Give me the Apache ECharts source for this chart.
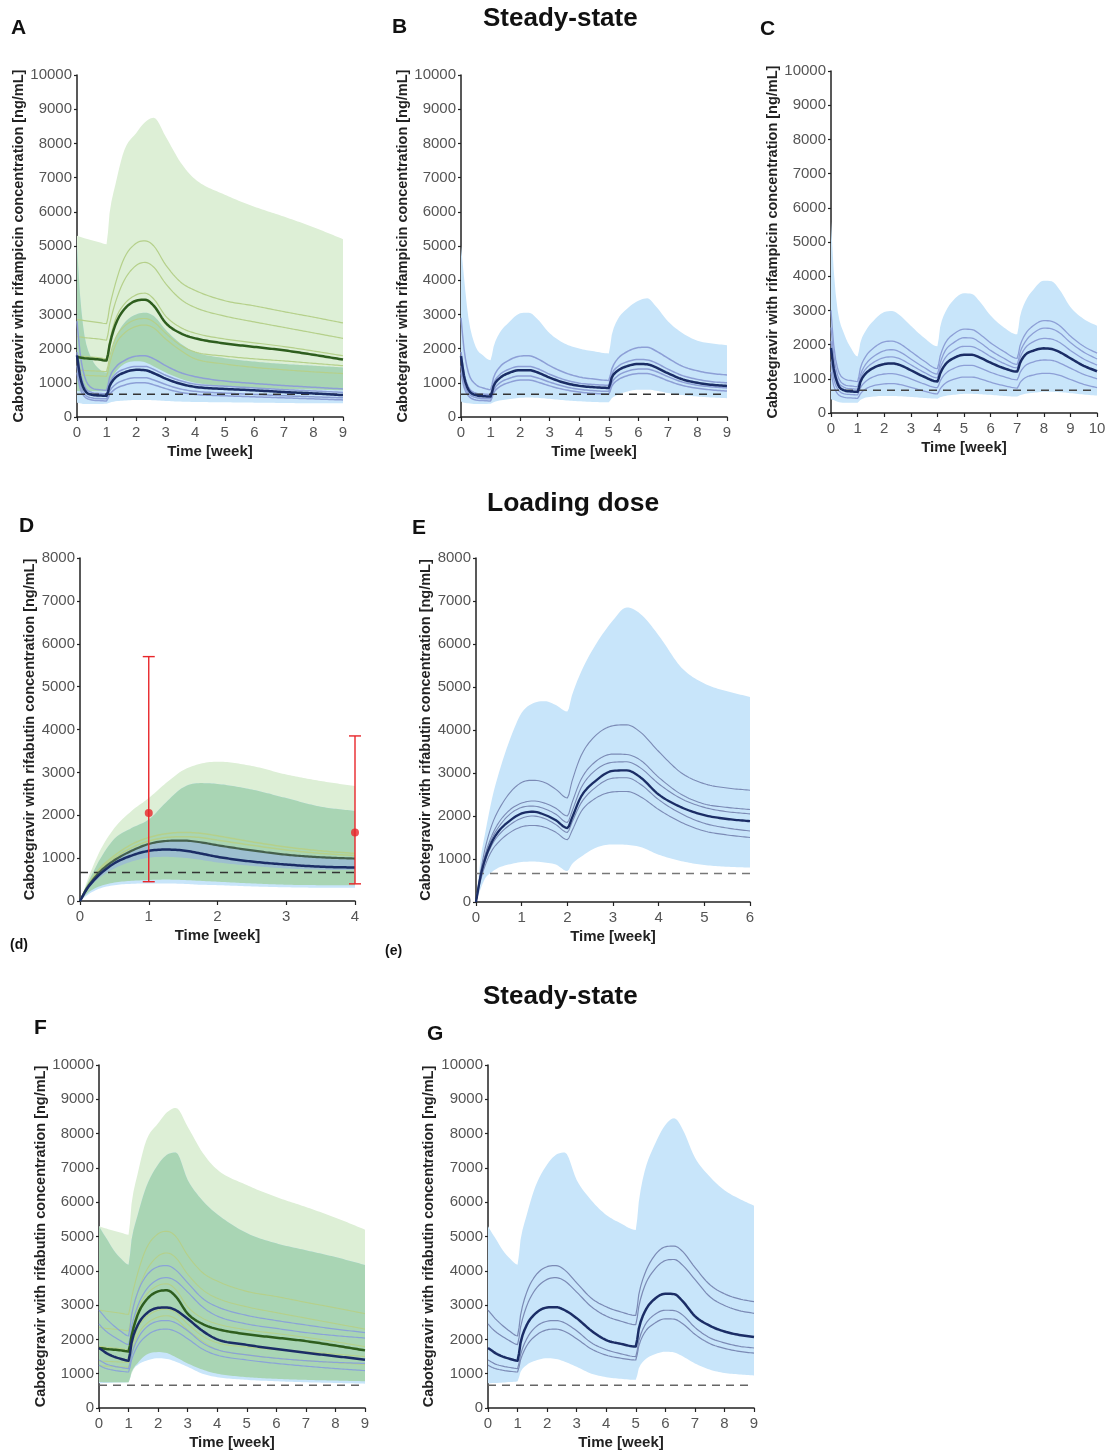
<!doctype html>
<html>
<head>
<meta charset="UTF-8">
<title>Cabotegravir with rifampicin / rifabutin</title>
<script src="https://cdn.jsdelivr.net/npm/echarts@6/dist/echarts.min.js"></script>
<style>
html, body { margin: 0; padding: 0; background: #fff; }
#chart { width: 1107px; height: 1451px; }
</style>
</head>
<body>
<div id="chart"></div>
<script>
// ---- time grids (weeks) ----
var tA = [0, 0.1, 0.25, 0.5, 0.75, 1, 1.1, 1.3, 1.6, 2, 2.3, 2.6, 3, 3.5, 4, 5, 6, 7, 8, 9];
var tB = [0, 0.1, 0.25, 0.5, 0.75, 1, 1.1, 1.3, 1.6, 2, 2.3, 2.6, 3, 3.5, 4, 4.5, 5, 5.1, 5.3, 5.6, 6, 6.3, 6.6, 7, 7.5, 8, 8.5, 9];
var tC = [0, 0.1, 0.25, 0.5, 0.75, 1, 1.1, 1.3, 1.6, 2, 2.3, 2.6, 3, 3.5, 4, 4.1, 4.3, 4.6, 5, 5.3, 5.6, 6, 6.5, 7, 7.1, 7.3, 7.6, 8, 8.3, 8.6, 9, 9.5, 10];
var tD = [0, 0.1, 0.2, 0.3, 0.5, 0.75, 1, 1.25, 1.5, 1.75, 2, 2.5, 3, 3.5, 4];
var tE = [0, 0.1, 0.2, 0.35, 0.5, 0.75, 1, 1.25, 1.5, 1.75, 2, 2.1, 2.3, 2.6, 3, 3.3, 3.6, 4, 4.5, 5, 5.5, 6];

var threshold = 664;

// ---- reference (green) profile, panels A and F, on tA ----
var greenUp  = [5300, 5270, 5230, 5170, 5110, 5050, 5950, 6800, 7800, 8300, 8620, 8750, 8200, 7450, 6950, 6500, 6150, 5860, 5550, 5200];
var greenLo  = [760, 755, 750, 750, 750, 750, 1000, 1300, 1550, 1630, 1600, 1480, 1300, 1120, 1000, 900, 850, 820, 800, 780];
var greenMed = [1750, 1740, 1720, 1700, 1680, 1650, 2100, 2700, 3150, 3400, 3430, 3250, 2750, 2450, 2300, 2150, 2050, 1950, 1820, 1680];
var greenP1  = [2850, 2840, 2820, 2790, 2760, 2730, 3200, 3900, 4650, 5080, 5150, 5000, 4450, 3950, 3700, 3400, 3250, 3080, 2920, 2750];
var greenP2  = [2350, 2340, 2320, 2300, 2280, 2250, 2700, 3350, 4000, 4430, 4520, 4380, 3900, 3450, 3200, 2950, 2780, 2620, 2460, 2300];
var greenP3  = [1800, 1790, 1770, 1750, 1730, 1700, 2200, 2850, 3300, 3570, 3620, 3450, 2950, 2620, 2450, 2280, 2170, 2060, 1930, 1790];
var greenP4  = [1370, 1365, 1360, 1350, 1340, 1330, 1750, 2300, 2650, 2850, 2880, 2780, 2450, 2100, 1900, 1780, 1700, 1640, 1570, 1500];
var greenP5  = [1230, 1225, 1220, 1210, 1200, 1190, 1550, 2100, 2450, 2650, 2690, 2600, 2280, 1950, 1700, 1550, 1450, 1380, 1320, 1270];

// ---- A: rifampicin, on tA ----
var aBlueUp  = [5000, 3600, 2400, 1700, 1400, 1300, 1700, 2300, 2750, 3000, 3050, 2950, 2550, 2150, 1900, 1720, 1620, 1550, 1500, 1450];
var aBlueLo  = [420, 400, 380, 380, 380, 390, 420, 460, 480, 500, 500, 490, 470, 450, 440, 430, 420, 410, 400, 400];
var aBlueMed = [1800, 1200, 800, 650, 630, 620, 900, 1150, 1300, 1380, 1370, 1280, 1120, 970, 880, 820, 780, 730, 690, 640];
var aBlueP1  = [2800, 1900, 1200, 850, 800, 780, 1150, 1450, 1650, 1780, 1790, 1700, 1500, 1300, 1180, 1050, 980, 920, 870, 820];
var aBlueP2  = [1900, 1350, 900, 720, 690, 680, 980, 1250, 1400, 1480, 1480, 1390, 1220, 1060, 960, 900, 850, 800, 760, 720];
var aBlueP3  = [1500, 1000, 680, 560, 540, 530, 750, 950, 1080, 1150, 1150, 1080, 950, 820, 750, 700, 660, 620, 590, 560];
var aBlueP4  = [1300, 850, 600, 500, 480, 470, 650, 820, 930, 1000, 1000, 940, 830, 720, 660, 620, 590, 560, 530, 500];

// ---- B: rifampicin steady-state, on tB ----
var bUp  = [5000, 4100, 2900, 2050, 1800, 1660, 2050, 2450, 2750, 3030, 3050, 2850, 2450, 2150, 2000, 1920, 1860, 2400, 2850, 3150, 3400, 3470, 3230, 2800, 2450, 2230, 2150, 2100];
var bLo  = [450, 420, 400, 380, 380, 390, 430, 480, 520, 560, 570, 560, 530, 490, 460, 440, 430, 550, 650, 740, 800, 800, 770, 700, 640, 600, 570, 550];
var bMed = [1780, 1200, 800, 640, 610, 600, 900, 1130, 1280, 1370, 1370, 1300, 1150, 1000, 910, 870, 850, 1150, 1350, 1480, 1550, 1540, 1450, 1280, 1100, 1000, 940, 910];
var bP1  = [2900, 2000, 1300, 950, 850, 800, 1150, 1450, 1650, 1780, 1790, 1700, 1500, 1300, 1170, 1110, 1070, 1400, 1700, 1900, 2030, 2040, 1930, 1720, 1480, 1350, 1270, 1230];
var bP2  = [1900, 1300, 880, 700, 670, 660, 980, 1230, 1390, 1480, 1480, 1410, 1250, 1090, 990, 950, 930, 1250, 1470, 1610, 1680, 1670, 1580, 1400, 1210, 1100, 1030, 1000];
var bP3  = [1500, 1000, 700, 570, 540, 530, 780, 990, 1120, 1200, 1200, 1140, 1020, 890, 810, 770, 750, 1000, 1200, 1330, 1400, 1400, 1330, 1180, 1020, 930, 880, 850];
var bP4  = [1300, 880, 620, 500, 480, 470, 700, 880, 1000, 1080, 1080, 1020, 910, 800, 730, 690, 670, 900, 1080, 1200, 1270, 1270, 1200, 1060, 920, 840, 790, 760];

// ---- C: rifampicin steady-state (3 doses), on tC ----
var cUp  = [5600, 4200, 3000, 2300, 1900, 1650, 2050, 2400, 2700, 2950, 2980, 2850, 2550, 2200, 1950, 2500, 2950, 3300, 3500, 3480, 3250, 2850, 2500, 2300, 2800, 3250, 3600, 3870, 3850, 3600, 3100, 2750, 2550];
var cLo  = [400, 380, 330, 300, 300, 300, 380, 450, 480, 500, 500, 490, 470, 440, 420, 460, 500, 530, 560, 560, 550, 530, 500, 480, 520, 560, 590, 620, 620, 610, 580, 540, 510];
var cMed = [1900, 1300, 850, 660, 630, 620, 900, 1150, 1320, 1430, 1450, 1400, 1250, 1060, 920, 1150, 1420, 1600, 1700, 1700, 1620, 1470, 1310, 1210, 1450, 1700, 1820, 1890, 1870, 1780, 1600, 1380, 1220];
var cP1  = [3000, 2000, 1300, 1000, 950, 920, 1300, 1650, 1900, 2080, 2100, 2020, 1800, 1520, 1300, 1650, 2050, 2300, 2450, 2440, 2300, 2050, 1800, 1600, 1950, 2300, 2550, 2700, 2680, 2550, 2250, 1950, 1750];
var cP2  = [2500, 1700, 1100, 830, 790, 770, 1100, 1420, 1650, 1820, 1850, 1780, 1580, 1330, 1140, 1450, 1830, 2050, 2200, 2190, 2060, 1830, 1600, 1420, 1750, 2080, 2330, 2480, 2460, 2340, 2060, 1780, 1580];
var cP3  = [2100, 1450, 950, 750, 710, 700, 1000, 1280, 1480, 1620, 1640, 1580, 1410, 1190, 1030, 1300, 1620, 1820, 1950, 1940, 1840, 1650, 1450, 1320, 1600, 1900, 2080, 2180, 2160, 2060, 1830, 1580, 1400];
var cP4  = [1500, 1000, 700, 560, 540, 530, 730, 920, 1060, 1140, 1150, 1110, 1000, 850, 740, 930, 1150, 1300, 1390, 1390, 1320, 1190, 1060, 970, 1170, 1380, 1490, 1550, 1540, 1460, 1310, 1130, 1000];
var cP5  = [1200, 800, 560, 460, 440, 430, 560, 700, 800, 850, 860, 830, 750, 640, 560, 700, 870, 980, 1050, 1050, 1000, 900, 800, 730, 880, 1030, 1110, 1160, 1150, 1100, 980, 840, 740];

// ---- D: rifabutin, on tD ----
var dGreenUp  = [0, 450, 850, 1200, 1700, 2100, 2400, 2750, 3050, 3200, 3250, 3150, 2950, 2800, 2680];
var dGreenLo  = [0, 170, 280, 350, 430, 470, 490, 500, 490, 470, 450, 410, 380, 370, 370];
var dBlueUp   = [0, 380, 700, 1000, 1450, 1700, 1900, 2300, 2650, 2750, 2730, 2600, 2400, 2200, 2100];
var dBlueLo   = [0, 130, 230, 300, 370, 400, 410, 410, 400, 380, 370, 340, 320, 310, 310];
var dInnerUp  = [0, 300, 530, 710, 980, 1200, 1340, 1400, 1410, 1370, 1300, 1180, 1080, 1030, 1000];
var dInnerLo  = [0, 250, 420, 560, 760, 920, 1010, 1030, 1010, 960, 900, 820, 760, 730, 720];
var dGreenMed = [0, 300, 520, 700, 950, 1170, 1330, 1400, 1410, 1370, 1300, 1180, 1080, 1020, 990];
var dBlueMed  = [0, 280, 480, 640, 880, 1060, 1170, 1200, 1180, 1110, 1030, 920, 850, 800, 780];
var dGreenP1  = [0, 330, 580, 780, 1060, 1320, 1480, 1570, 1600, 1580, 1520, 1380, 1260, 1170, 1110];
var dGreenP2  = [0, 320, 550, 740, 1000, 1240, 1400, 1480, 1500, 1480, 1420, 1300, 1190, 1110, 1060];
var obsT    = [1, 4];
var obsMean = [2050, 1600];
var obsLow  = [450, 400];
var obsHigh = [5700, 3850];

// ---- E: rifabutin loading dose, on tE ----
var eUp  = [0, 1000, 1600, 2400, 3000, 3800, 4400, 4620, 4670, 4580, 4430, 4800, 5350, 5950, 6550, 6850, 6700, 6200, 5450, 5080, 4900, 4770];
var eLo  = [0, 300, 550, 700, 800, 880, 930, 940, 920, 870, 720, 880, 1050, 1250, 1340, 1330, 1280, 1100, 950, 860, 820, 800];
var eMed = [0, 600, 1000, 1400, 1650, 1900, 2060, 2100, 2030, 1900, 1720, 1950, 2450, 2800, 3050, 3060, 2900, 2500, 2200, 2020, 1930, 1880];
var eP1  = [0, 700, 1250, 1800, 2150, 2550, 2780, 2830, 2780, 2620, 2420, 2800, 3400, 3850, 4100, 4120, 3950, 3500, 3000, 2750, 2650, 2600];
var eP2  = [0, 650, 1100, 1550, 1850, 2150, 2300, 2350, 2300, 2180, 2000, 2300, 2850, 3250, 3440, 3430, 3300, 2900, 2500, 2280, 2200, 2150];
var eP3  = [0, 620, 1050, 1480, 1750, 2050, 2200, 2230, 2170, 2040, 1850, 2100, 2650, 3050, 3250, 3260, 3120, 2750, 2400, 2200, 2100, 2050];
var eP4  = [0, 580, 950, 1330, 1560, 1800, 1950, 2000, 1940, 1800, 1620, 1850, 2300, 2650, 2880, 2890, 2740, 2380, 2050, 1830, 1720, 1650];
var eP5  = [0, 500, 850, 1200, 1400, 1620, 1750, 1780, 1740, 1620, 1450, 1650, 2100, 2400, 2560, 2570, 2450, 2150, 1850, 1650, 1560, 1500];

// ---- F: rifabutin (blue) vs reference (green), on tA ----
var fBlueUp  = [5300, 5150, 4950, 4600, 4350, 4180, 4900, 5600, 6450, 7100, 7380, 7450, 6650, 6050, 5650, 5100, 4800, 4600, 4400, 4170];
var fBlueLo  = [720, 725, 730, 740, 745, 750, 1050, 1250, 1380, 1450, 1430, 1350, 1200, 1000, 900, 820, 780, 750, 730, 710];
var fBlueMed = [1750, 1690, 1600, 1500, 1430, 1380, 1900, 2400, 2750, 2920, 2930, 2850, 2600, 2250, 2000, 1840, 1720, 1610, 1510, 1410];
var fBlueP1  = [2850, 2750, 2600, 2400, 2230, 2100, 2700, 3350, 3850, 4120, 4150, 4020, 3650, 3200, 2950, 2700, 2550, 2420, 2300, 2200];
var fBlueP2  = [2450, 2350, 2230, 2080, 1950, 1850, 2350, 2950, 3450, 3750, 3800, 3700, 3380, 2950, 2680, 2450, 2320, 2200, 2110, 2040];
var fBlueP3  = [1400, 1350, 1280, 1220, 1180, 1150, 1550, 2000, 2350, 2530, 2550, 2480, 2250, 1900, 1700, 1550, 1450, 1380, 1330, 1300];
var fBlueP4  = [1250, 1200, 1150, 1100, 1070, 1050, 1400, 1800, 2100, 2280, 2300, 2230, 2020, 1720, 1540, 1400, 1300, 1220, 1150, 1090];

// ---- G: rifabutin steady-state, on tB ----
var gUp  = [5300, 5150, 4950, 4600, 4350, 4180, 4900, 5600, 6450, 7100, 7380, 7450, 6650, 6050, 5630, 5380, 5190, 6000, 6900, 7600, 8250, 8450, 8100, 7300, 6750, 6350, 6100, 5900];
var gLo  = [720, 725, 730, 740, 760, 780, 1050, 1250, 1380, 1450, 1430, 1350, 1200, 1000, 900, 850, 820, 1150, 1400, 1550, 1640, 1620, 1500, 1300, 1120, 1020, 980, 950];
var gMed = [1750, 1690, 1600, 1500, 1430, 1380, 1900, 2400, 2750, 2930, 2940, 2850, 2620, 2250, 1980, 1870, 1790, 2300, 2800, 3150, 3330, 3320, 3100, 2680, 2400, 2230, 2130, 2070];
var gP1  = [2850, 2750, 2600, 2400, 2230, 2100, 2700, 3350, 3850, 4120, 4150, 4020, 3650, 3200, 2950, 2800, 2700, 3300, 3900, 4400, 4700, 4720, 4550, 4100, 3600, 3330, 3180, 3100];
var gP2  = [2450, 2350, 2230, 2080, 1950, 1850, 2350, 2950, 3450, 3750, 3800, 3700, 3380, 2950, 2680, 2530, 2430, 2950, 3550, 4000, 4300, 4330, 4150, 3750, 3250, 2990, 2840, 2760];
var gP3  = [1400, 1350, 1280, 1220, 1180, 1150, 1550, 2000, 2350, 2530, 2550, 2480, 2250, 1900, 1700, 1580, 1500, 1950, 2400, 2700, 2850, 2840, 2700, 2350, 2050, 1900, 1800, 1750];
var gP4  = [1250, 1200, 1150, 1100, 1070, 1050, 1400, 1800, 2100, 2280, 2300, 2230, 2020, 1720, 1540, 1450, 1400, 1800, 2200, 2450, 2600, 2590, 2450, 2150, 1880, 1740, 1650, 1600];

// ---- styles ----
var FONT = '"Liberation Sans", Arial, sans-serif';
var LIGHT_GREEN = '#ddefd6';
var DARK_GREEN = '#a9d5b4';
var LIGHT_BLUE = '#c8e5fa';
var GREEN_LINE = '#b5d08a';
var GREEN_MED = '#2e5e1e';
var BLUE_MED = '#1b2d66';
var BLUE_LINE = '#8d9fd6';
var GREY_BLUE = '#7b8ab5';
var RED = '#e8262a';

var NAME_RIFAMPICIN = 'Cabotegravir with rifampicin concentration [ng/mL]';
var NAME_RIFABUTIN = 'Cabotegravir with rifabutin concentration [ng/mL]';

var panels = [
  { left: 77,  top: 75,   width: 266, height: 342, xmax: 9,  ymax: 10000, name: NAME_RIFAMPICIN, gap: 50 },
  { left: 461, top: 75,   width: 266, height: 342, xmax: 9,  ymax: 10000, name: NAME_RIFAMPICIN, gap: 49 },
  { left: 831, top: 71,   width: 266, height: 342, xmax: 10, ymax: 10000, name: NAME_RIFAMPICIN, gap: 50 },
  { left: 80,  top: 558,  width: 275, height: 343, xmax: 4,  ymax: 8000,  name: NAME_RIFABUTIN,  gap: 42 },
  { left: 476, top: 558,  width: 274, height: 344, xmax: 6,  ymax: 8000,  name: NAME_RIFABUTIN,  gap: 40 },
  { left: 99,  top: 1065, width: 266, height: 343, xmax: 9,  ymax: 10000, name: NAME_RIFABUTIN,  gap: 50 },
  { left: 488, top: 1065, width: 266, height: 343, xmax: 9,  ymax: 10000, name: NAME_RIFABUTIN,  gap: 52 }
];

function plain(v) { return String(v); }

var grids = [], xAxes = [], yAxes = [], series = [];

panels.forEach(function (p, i) {
  grids.push({ left: p.left, top: p.top, width: p.width, height: p.height, containLabel: false, outerBoundsMode: 'none' });
  xAxes.push({
    gridIndex: i, type: 'value', min: 0, max: p.xmax, interval: 1,
    axisLine: { show: true, onZero: false, lineStyle: { color: '#222', width: 1.5 } },
    axisTick: { show: true, length: 4, lineStyle: { color: '#222', width: 1.2 } },
    axisLabel: { color: '#555', fontSize: 15, margin: 8, fontFamily: FONT, formatter: plain, showMinLabel: true, showMaxLabel: true },
    splitLine: { show: false },
    name: 'Time [week]', nameLocation: 'middle', nameGap: 27,
    nameTextStyle: { color: '#222', fontSize: 15, fontWeight: 'bold', fontFamily: FONT }
  });
  yAxes.push({
    gridIndex: i, type: 'value', min: 0, max: p.ymax, interval: 1000,
    axisLine: { show: true, onZero: false, lineStyle: { color: '#222', width: 1.5 } },
    axisTick: { show: true, length: 3, lineStyle: { color: '#222', width: 1.2 } },
    axisLabel: { color: '#555', fontSize: 15, margin: 5, fontFamily: FONT, formatter: plain, showMinLabel: true, showMaxLabel: true },
    splitLine: { show: false },
    name: p.name, nameLocation: 'middle', nameGap: p.gap,
    nameTextStyle: { color: '#222', fontSize: 14.5, fontWeight: 'bold', fontFamily: FONT }
  });
});

function pts(t, v) {
  return t.map(function (x, i) { return [x, v[i]]; });
}

// monotone cubic (Fritsch-Carlson) through pixel points, sampled for drawing
function monoSample(p) {
  var n = p.length, i, d = [], m = [], out = [];
  for (i = 0; i < n - 1; i++) d.push((p[i + 1][1] - p[i][1]) / (p[i + 1][0] - p[i][0]));
  m[0] = d[0]; m[n - 1] = d[n - 2];
  for (i = 1; i < n - 1; i++) m[i] = d[i - 1] * d[i] <= 0 ? 0 : (d[i - 1] + d[i]) / 2;
  for (i = 0; i < n - 1; i++) {
    if (d[i] === 0) { m[i] = 0; m[i + 1] = 0; continue; }
    var a = m[i] / d[i], b = m[i + 1] / d[i], s = a * a + b * b;
    if (s > 9) { var tau = 3 / Math.sqrt(s); m[i] = tau * a * d[i]; m[i + 1] = tau * b * d[i]; }
  }
  for (i = 0; i < n - 1; i++) {
    var x0 = p[i][0], y0 = p[i][1], x1 = p[i + 1][0], y1 = p[i + 1][1], h = x1 - x0;
    var steps = Math.max(2, Math.ceil(h / 2));
    for (var k = 0; k < steps; k++) {
      var u = k / steps, h00 = 2 * u * u * u - 3 * u * u + 1, h10 = u * u * u - 2 * u * u + u,
          h01 = -2 * u * u * u + 3 * u * u, h11 = u * u * u - u * u;
      out.push([x0 + u * h, h00 * y0 + h10 * h * m[i] + h01 * y1 + h11 * h * m[i + 1]]);
    }
  }
  out.push(p[n - 1]);
  return out;
}

// shaded band between lo and up, drawn as one polygon through the axis scales
function band(g, t, lo, up, color) {
  series.push({
    type: 'custom', xAxisIndex: g, yAxisIndex: g, silent: true, z: 1,
    data: t.map(function (x, i) { return [x, lo[i], up[i]]; }),
    encode: { x: 0, y: [1, 2] },
    renderItem: function (params, api) {
      if (params.dataIndex !== 0) return null;
      var upper = t.map(function (x, i) { return api.coord([x, up[i]]); });
      var lower = t.map(function (x, i) { return api.coord([x, lo[i]]); });
      var poly = monoSample(upper).concat(monoSample(lower).reverse());
      return { type: 'polygon', shape: { points: poly }, style: { fill: color } };
    }
  });
}

// green band + blue band + their overlap in dark green
function bandPair(g, t, gLoArr, gUpArr, bLoArr, bUpArr) {
  var oLo = gLoArr.map(function (v, i) { return Math.max(v, bLoArr[i]); });
  var oUp = gUpArr.map(function (v, i) { return Math.max(oLo[i], Math.min(v, bUpArr[i])); });
  band(g, t, gLoArr, gUpArr, LIGHT_GREEN);
  band(g, t, bLoArr, bUpArr, LIGHT_BLUE);
  band(g, t, oLo, oUp, DARK_GREEN);
}

// smooth profile line through the axis scales
function curve(g, t, v, color, width, z, dash) {
  series.push({
    type: 'custom', xAxisIndex: g, yAxisIndex: g, silent: true, z: z,
    data: pts(t, v),
    encode: { x: 0, y: 1 },
    renderItem: function (params, api) {
      if (params.dataIndex !== 0) return null;
      var p = t.map(function (x, i) { return api.coord([x, v[i]]); });
      return { type: 'polyline', shape: { points: monoSample(p) },
        style: { stroke: color, lineWidth: width, fill: null, lineDash: dash || null, lineJoin: 'round' } };
    }
  });
}

function dashed(g, xmax, color) {
  series.push({ type: 'line', xAxisIndex: g, yAxisIndex: g, data: [[0, threshold], [xmax, threshold]], symbol: 'none',
    silent: true, lineStyle: { color: color, width: 1.6, type: [8, 6] }, z: 3 });
}

// A
bandPair(0, tA, greenLo, greenUp, aBlueLo, aBlueUp);
[greenP1, greenP2, greenP3, greenP4, greenP5].forEach(function (v) { curve(0, tA, v, GREEN_LINE, 1.2, 2); });
[aBlueP1, aBlueP2, aBlueP3, aBlueP4].forEach(function (v) { curve(0, tA, v, BLUE_LINE, 1.5, 2); });
dashed(0, 9, '#333');
curve(0, tA, greenMed, GREEN_MED, 2.5, 4);
curve(0, tA, aBlueMed, BLUE_MED, 2.5, 4);

// B
band(1, tB, bLo, bUp, LIGHT_BLUE);
[bP1, bP2, bP3, bP4].forEach(function (v) { curve(1, tB, v, BLUE_LINE, 1.5, 2); });
dashed(1, 9, '#333');
curve(1, tB, bMed, BLUE_MED, 2.5, 4);

// C
band(2, tC, cLo, cUp, LIGHT_BLUE);
[cP1, cP2, cP3, cP4, cP5].forEach(function (v) { curve(2, tC, v, BLUE_LINE, 1.3, 2); });
dashed(2, 10, '#444');
curve(2, tC, cMed, BLUE_MED, 2.5, 4);

// D
bandPair(3, tD, dGreenLo, dGreenUp, dBlueLo, dBlueUp);
band(3, tD, dInnerLo, dInnerUp, '#9dbfcf');
[dGreenP1, dGreenP2].forEach(function (v) { curve(3, tD, v, GREEN_LINE, 1.5, 2); });
dashed(3, 4, '#333');
curve(3, tD, dGreenMed, '#44604c', 2.2, 4);
curve(3, tD, dBlueMed, BLUE_MED, 2.5, 4);
series.push({
  type: 'custom', xAxisIndex: 3, yAxisIndex: 3, z: 6, silent: true,
  data: obsT.map(function (t, i) { return [t, obsLow[i], obsHigh[i]]; }),
  encode: { x: 0, y: [1, 2] },
  renderItem: function (params, api) {
    var lo = api.coord([api.value(0), api.value(1)]);
    var hi = api.coord([api.value(0), api.value(2)]);
    var w = 6;
    var st = { stroke: RED, lineWidth: 1.4 };
    return { type: 'group', children: [
      { type: 'line', shape: { x1: lo[0], y1: lo[1], x2: hi[0], y2: hi[1] }, style: st },
      { type: 'line', shape: { x1: lo[0] - w, y1: lo[1], x2: lo[0] + w, y2: lo[1] }, style: st },
      { type: 'line', shape: { x1: hi[0] - w, y1: hi[1], x2: hi[0] + w, y2: hi[1] }, style: st }
    ] };
  }
});
series.push({ type: 'scatter', xAxisIndex: 3, yAxisIndex: 3, data: pts(obsT, obsMean), symbol: 'circle',
  symbolSize: 8, itemStyle: { color: RED }, silent: true, z: 7 });

// E
band(4, tE, eLo, eUp, LIGHT_BLUE);
[eP1, eP2, eP3, eP4, eP5].forEach(function (v) { curve(4, tE, v, GREY_BLUE, 1.1, 2); });
dashed(4, 6, '#777');
curve(4, tE, eMed, BLUE_MED, 2.3, 4);

// F
bandPair(5, tA, greenLo, greenUp, fBlueLo, fBlueUp);
[greenP1, greenP2, greenP3, greenP4, greenP5].forEach(function (v) { curve(5, tA, v, GREEN_LINE, 1.1, 2); });
[fBlueP1, fBlueP2, fBlueP3, fBlueP4].forEach(function (v) { curve(5, tA, v, '#8aa3d8', 1.2, 2); });
dashed(5, 9, '#666');
curve(5, tA, greenMed, GREEN_MED, 2.5, 4);
curve(5, tA, fBlueMed, BLUE_MED, 2.5, 4);

// G
band(6, tB, gLo, gUp, LIGHT_BLUE);
[gP1, gP2, gP3, gP4].forEach(function (v) { curve(6, tB, v, GREY_BLUE, 1.2, 2); });
dashed(6, 9, '#666');
curve(6, tB, gMed, BLUE_MED, 2.5, 4);

function label(txt, x, y, size) {
  return { type: 'text', left: x, top: y, z: 10,
    style: { text: txt, font: 'bold ' + size + 'px ' + FONT, fill: '#111' } };
}

var chart = echarts.init(document.getElementById('chart'));
chart.setOption({
  animation: false,
  backgroundColor: '#fff',
  grid: grids,
  xAxis: xAxes,
  yAxis: yAxes,
  series: series,
  graphic: [
    label('Steady-state', 483, 6, 26),
    label('Loading dose', 487, 490, 26.5),
    label('Steady-state', 483, 984, 26),
    label('A', 11, 18, 21),
    label('B', 392, 17, 21),
    label('C', 760, 19, 21),
    label('D', 19, 516, 21),
    label('E', 412, 518, 21),
    label('F', 34, 1018, 21),
    label('G', 427, 1024, 21),
    label('(d)', 10, 938, 14),
    label('(e)', 385, 944, 14)
  ]
});
</script>
</body>
</html>
